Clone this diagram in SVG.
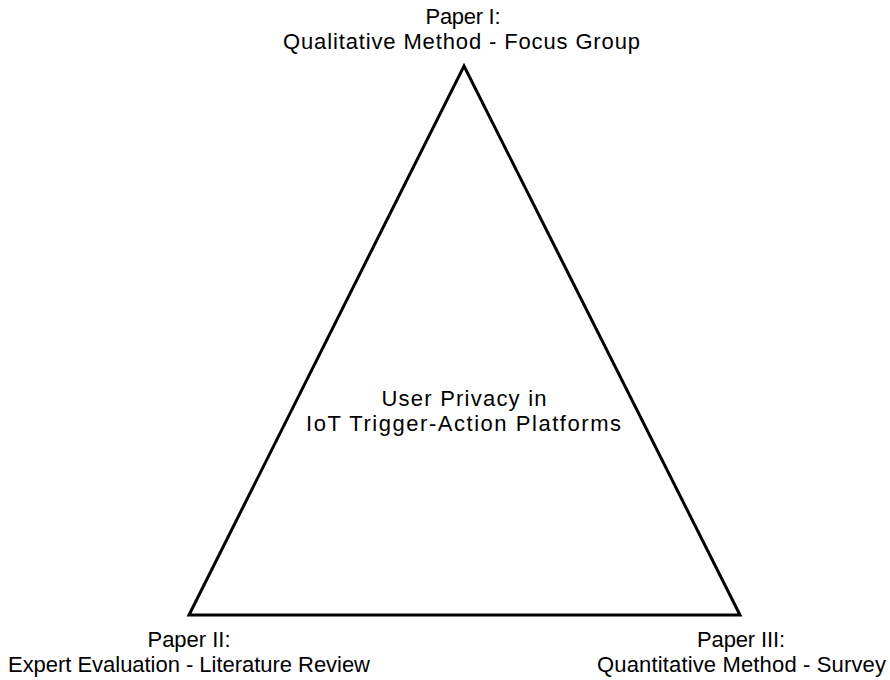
<svg xmlns="http://www.w3.org/2000/svg" width="890" height="680" viewBox="0 0 890 680">
  <style>
    .lbl { font-family: "Liberation Sans", Arial, sans-serif; font-size: 22px; fill: #000; text-anchor: middle; }
    .edge { fill: none; stroke: #000; stroke-width: 3; stroke-linejoin: miter; }
  </style>
  <rect width="890" height="680" fill="#fff"/>
  <g id="connectors">
    <polygon class="edge" points="464,66 740,615 189,615"/>
  </g>
  <g id="topic">
    <text class="lbl" x="464" y="406" textLength="165" lengthAdjust="spacing">User Privacy in</text>
    <text class="lbl" x="463.5" y="431" textLength="315" lengthAdjust="spacing">IoT Trigger-Action Platforms</text>
  </g>
  <g id="paper1">
    <text class="lbl" x="463" y="24" textLength="75" lengthAdjust="spacing">Paper I:</text>
    <text class="lbl" x="461.5" y="49" textLength="357" lengthAdjust="spacing">Qualitative Method - Focus Group</text>
  </g>
  <g id="paper2">
    <text class="lbl" x="189" y="647" textLength="83" lengthAdjust="spacing">Paper II:</text>
    <text class="lbl" x="189" y="672" textLength="362" lengthAdjust="spacing">Expert Evaluation - Literature Review</text>
  </g>
  <g id="paper3">
    <text class="lbl" x="741" y="647" textLength="88" lengthAdjust="spacing">Paper III:</text>
    <text class="lbl" x="741.5" y="672" textLength="289" lengthAdjust="spacing">Quantitative Method - Survey</text>
  </g>
</svg>
